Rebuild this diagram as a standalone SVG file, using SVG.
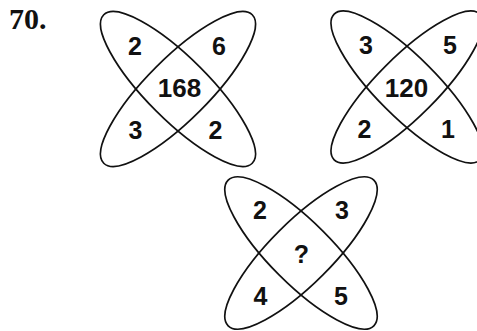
<svg xmlns="http://www.w3.org/2000/svg" width="477" height="331" viewBox="0 0 477 331">
<style>
.bg{fill:#ffffff}
.ring{fill:none;stroke:#111;stroke-width:1.7}
.num{font-family:"Liberation Sans",Arial,sans-serif;font-weight:bold;font-size:25px;fill:#111;text-anchor:middle}
.mid{font-size:26px}
.title{font-family:"Liberation Serif","Times New Roman",serif;font-weight:bold;font-size:30px;fill:#111}
</style>
<rect class="bg" x="0" y="0" width="477" height="331"/>
<g id="label">
<text class="title" x="9" y="29">70.</text>
</g>
<g id="figure1">
<ellipse class="ring" cx="178" cy="89" rx="105" ry="31" transform="rotate(45 178 89)"/>
<ellipse class="ring" cx="178" cy="89" rx="105" ry="31" transform="rotate(-45 178 89)"/>
<text class="num" x="135" y="55">2</text>
<text class="num" x="219" y="55">6</text>
<text class="num mid" x="179.5" y="97">168</text>
<text class="num" x="135.5" y="139">3</text>
<text class="num" x="215.5" y="139">2</text>
</g>
<g id="figure2">
<ellipse class="ring" cx="407" cy="87" rx="103" ry="30" transform="rotate(45 407 87)"/>
<ellipse class="ring" cx="407" cy="87" rx="103" ry="30" transform="rotate(-45 407 87)"/>
<text class="num" x="366" y="54">3</text>
<text class="num" x="450" y="54">5</text>
<text class="num mid" x="406.5" y="97">120</text>
<text class="num" x="364.5" y="138">2</text>
<text class="num" x="448" y="138">1</text>
</g>
<g id="figure3">
<ellipse class="ring" cx="301" cy="253" rx="103" ry="31" transform="rotate(45 301 253)"/>
<ellipse class="ring" cx="301" cy="253" rx="103" ry="31" transform="rotate(-45 301 253)"/>
<text class="num" x="260" y="219">2</text>
<text class="num" x="342" y="219">3</text>
<text class="num" x="301.5" y="263">?</text>
<text class="num" x="260.5" y="305">4</text>
<text class="num" x="341" y="305">5</text>
</g>
</svg>
